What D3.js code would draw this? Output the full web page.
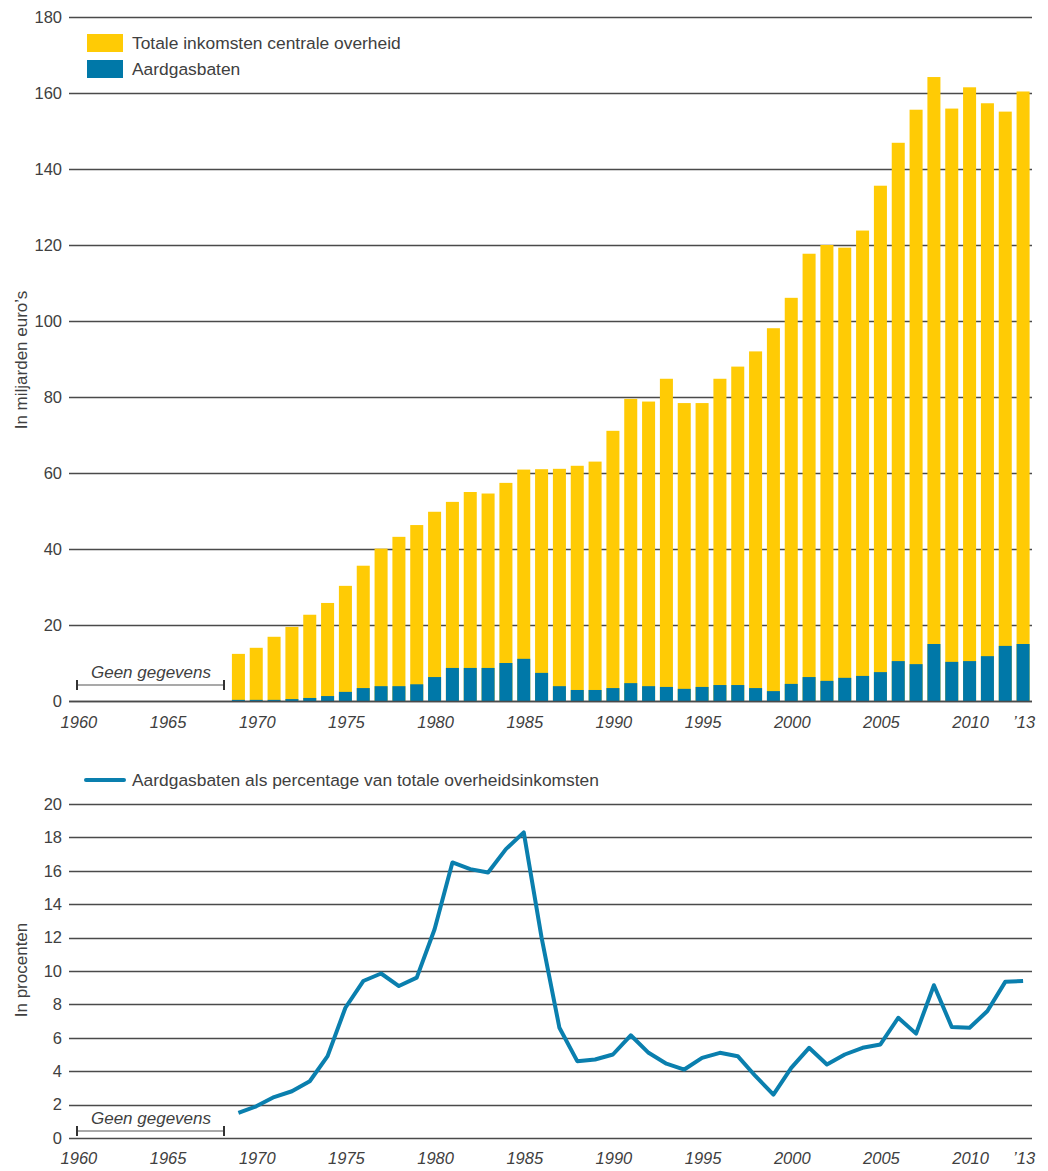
<!DOCTYPE html>
<html>
<head>
<meta charset="utf-8">
<script src="https://cdnjs.cloudflare.com/ajax/libs/d3/7.8.5/d3.min.js"></script>
<style>
body { margin: 0; background: #fff; }
text { font-family: "Liberation Sans", Arial, sans-serif; fill: #404040; }
</style>
</head>
<body>
<svg id="chart" width="1048" height="1171"></svg>
<script>
"use strict";

// years with data
var years = d3.range(1969, 2014);

// totale inkomsten centrale overheid (miljard euro)
var totaal = [12.4, 14.0, 16.9, 19.5, 22.7, 25.8, 30.3, 35.6, 40.1, 43.2,
	46.3, 49.8, 52.4, 55.0, 54.6, 57.4, 60.9, 61.0, 61.1, 61.9,
	63.0, 71.1, 79.5, 78.8, 84.8, 78.4, 78.4, 84.8, 88.0, 92.0,
	98.1, 106.1, 117.7, 120.0, 119.3, 123.8, 135.6, 146.9, 155.6, 164.2,
	155.9, 161.5, 157.3, 155.1, 160.4];

// aardgasbaten (miljard euro)
var gas = [0.3, 0.3, 0.3, 0.5, 0.8, 1.3, 2.4, 3.4, 3.9, 3.9,
	4.4, 6.3, 8.7, 8.7, 8.7, 10.0, 11.1, 7.4, 3.9, 2.9,
	2.9, 3.4, 4.7, 3.9, 3.7, 3.2, 3.7, 4.2, 4.2, 3.4,
	2.6, 4.5, 6.3, 5.3, 6.1, 6.6, 7.6, 10.5, 9.7, 15.0,
	10.3, 10.5, 11.8, 14.5, 15.0];

// aardgasbaten als percentage van totale overheidsinkomsten
var pct = [1.5, 1.9, 2.45, 2.8, 3.4, 4.9, 7.8, 9.4, 9.85, 9.1,
	9.6, 12.5, 16.5, 16.1, 15.9, 17.3, 18.3, 12.0, 6.6, 4.6,
	4.7, 5.0, 6.15, 5.1, 4.45, 4.1, 4.8, 5.1, 4.9, 3.7,
	2.6, 4.2, 5.4, 4.4, 5.0, 5.4, 5.6, 7.2, 6.25, 9.15,
	6.65, 6.6, 7.6, 9.35, 9.4];

var xTicks = [1960, 1965, 1970, 1975, 1980, 1985, 1990, 1995, 2000, 2005, 2010, 2013];
var xTickLabels = ["1960", "1965", "1970", "1975", "1980", "1985", "1990", "1995", "2000", "2005", "2010", "\u201913"];
var yTicksTop = d3.range(0, 181, 20);
var yTicksBottom = d3.range(0, 21, 2);

var yellow = "#ffcb05",
	blue = "#0078a8",
	grid = "#4a4a4a";

var svg = d3.select("#chart");

var x = d3.scaleBand()
	.domain(d3.range(1960, 2014))
	.range([69, 1032])
	.paddingInner(0.27)
	.paddingOuter(0.135);

function xc(yr) { return x(yr) + x.bandwidth() / 2; }

// ---------- top chart ----------
var yTop = d3.scaleLinear().domain([0, 180]).range([701, 17]);
var gTop = svg.append("g");

gTop.selectAll(".grid").data(yTicksTop).enter().append("line")
	.attr("x1", 69).attr("x2", 1032)
	.attr("y1", function(d) { return Math.round(yTop(d)) + 0.5; })
	.attr("y2", function(d) { return Math.round(yTop(d)) + 0.5; })
	.attr("stroke", grid).attr("stroke-width", 1.3);

gTop.selectAll(".ylab").data(yTicksTop).enter().append("text")
	.attr("x", 62).attr("y", function(d) { return yTop(d); })
	.attr("dy", "0.35em").attr("text-anchor", "end")
	.attr("font-size", 16.5).text(function(d) { return d; });

var data = years.map(function(y, i) { return { year: y, tot: totaal[i], gas: gas[i] }; });

gTop.selectAll(".tot").data(data).enter().append("rect")
	.attr("x", function(d) { return x(d.year); })
	.attr("width", x.bandwidth())
	.attr("y", function(d) { return yTop(d.tot); })
	.attr("height", function(d) { return yTop(0) - yTop(d.tot); })
	.attr("fill", yellow);

gTop.selectAll(".gas").data(data).enter().append("rect")
	.attr("x", function(d) { return x(d.year); })
	.attr("width", x.bandwidth())
	.attr("y", function(d) { return yTop(d.gas); })
	.attr("height", function(d) { return yTop(0) - yTop(d.gas); })
	.attr("fill", blue);

// baseline on top of bars
gTop.append("line").attr("x1", 69).attr("x2", 1032)
	.attr("y1", Math.round(yTop(0)) + 0.5).attr("y2", Math.round(yTop(0)) + 0.5)
	.attr("stroke", grid).attr("stroke-width", 1.3);

gTop.selectAll(".xlab").data(xTicks).enter().append("text")
	.attr("x", function(d) { return xc(d) + 1; }).attr("y", 728)
	.attr("text-anchor", "middle").attr("font-size", 16.5).attr("font-style", "italic")
	.text(function(d, i) { return xTickLabels[i]; });

gTop.append("text")
	.attr("transform", "translate(27,360) rotate(-90)")
	.attr("text-anchor", "middle").attr("font-size", 17)
	.text("In miljarden euro\u2019s");

// legend
var legItems = [["Totale inkomsten centrale overheid", yellow], ["Aardgasbaten", blue]];
legItems.forEach(function(l, i) {
	gTop.append("rect").attr("x", 87).attr("y", 34 + i * 26).attr("width", 36).attr("height", 18).attr("fill", l[1]);
	gTop.append("text").attr("x", 132).attr("y", 43 + i * 26).attr("dy", "0.35em")
		.attr("font-size", 17.4).text(l[0]);
});

function noData(g, yText, yLine) {
	g.append("text").attr("x", 151).attr("y", yText).attr("text-anchor", "middle")
		.attr("font-size", 17).attr("font-style", "italic").text("Geen gegevens");
	g.append("line").attr("x1", 77).attr("x2", 224).attr("y1", yLine).attr("y2", yLine)
		.attr("stroke", "#555").attr("stroke-width", 1.2);
	[77, 224].forEach(function(px) {
		g.append("line").attr("x1", px).attr("x2", px).attr("y1", yLine - 5).attr("y2", yLine + 5)
			.attr("stroke", "#333").attr("stroke-width", 2);
	});
}
noData(gTop, 678, 685);

// ---------- bottom chart ----------
var yBot = d3.scaleLinear().domain([0, 20]).range([1138, 804]);
var gBot = svg.append("g");

gBot.selectAll(".grid").data(yTicksBottom).enter().append("line")
	.attr("x1", 69).attr("x2", 1032)
	.attr("y1", function(d) { return Math.round(yBot(d)) + 0.5; })
	.attr("y2", function(d) { return Math.round(yBot(d)) + 0.5; })
	.attr("stroke", grid).attr("stroke-width", 1.3);

gBot.selectAll(".ylab").data(yTicksBottom).enter().append("text")
	.attr("x", 62).attr("y", function(d) { return yBot(d); })
	.attr("dy", "0.35em").attr("text-anchor", "end")
	.attr("font-size", 16.5).text(function(d) { return d; });

var line = d3.line()
	.x(function(d, i) { return xc(years[i]); })
	.y(function(d) { return yBot(d); });

gBot.append("path").datum(pct)
	.attr("d", line).attr("fill", "none")
	.attr("stroke", "#0a7fae").attr("stroke-width", 4)
	.attr("stroke-linejoin", "round");

gBot.selectAll(".xlab").data(xTicks).enter().append("text")
	.attr("x", function(d) { return xc(d) + 1; }).attr("y", 1164)
	.attr("text-anchor", "middle").attr("font-size", 16.5).attr("font-style", "italic")
	.text(function(d, i) { return xTickLabels[i]; });

gBot.append("text")
	.attr("transform", "translate(27,970) rotate(-90)")
	.attr("text-anchor", "middle").attr("font-size", 17)
	.text("In procenten");

gBot.append("line").attr("x1", 86).attr("x2", 124).attr("y1", 780).attr("y2", 780)
	.attr("stroke", "#0a7fae").attr("stroke-width", 4).attr("stroke-linecap", "round");
gBot.append("text").attr("x", 132).attr("y", 780).attr("dy", "0.35em")
	.attr("font-size", 17.4).text("Aardgasbaten als percentage van totale overheidsinkomsten");

noData(gBot, 1124, 1131);
</script>
</body>
</html>
